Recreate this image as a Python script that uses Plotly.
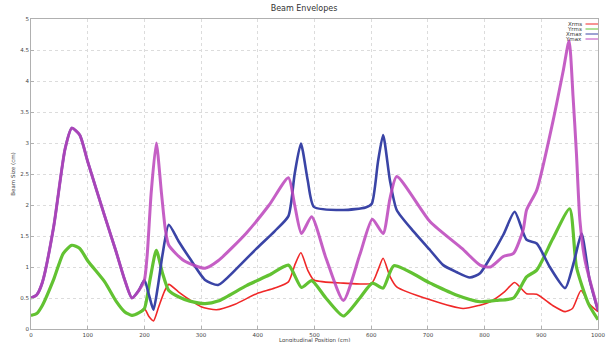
import plotly.graph_objects as go

# shared 0-200 segment values
x_max_a = [0, 10, 20, 40, 60, 72, 86, 100, 130, 150, 165, 178, 190, 200]
y_max_a = [0.5, 0.55, 0.75, 1.65, 2.9, 3.24, 3.13, 2.7, 1.82, 1.25, 0.8, 0.5, 0.62, 0.79]
x_rms_a = [0, 10, 20, 40, 57, 72, 86, 100, 130, 150, 165, 178, 190, 200]
y_rms_a = [0.22, 0.25, 0.38, 0.8, 1.22, 1.35, 1.3, 1.1, 0.76, 0.45, 0.28, 0.22, 0.26, 0.33]

xmax_x = [208, 216, 224, 232, 243, 260, 280, 307, 330, 360, 398, 430, 454, 465, 476, 488, 499,
          551, 590, 601, 612, 621, 633, 645, 675, 704, 727, 750, 774, 792, 810, 833, 853, 874,
          892, 915, 942, 958, 971, 985, 1000]
xmax_y = [0.55, 0.31, 0.7, 1.2, 1.68, 1.42, 1.14, 0.79, 0.71, 0.95, 1.3, 1.58, 1.82, 2.5, 2.99, 2.4, 1.97,
          1.92, 1.96, 2.02, 2.7, 3.13, 2.4, 1.92, 1.57, 1.27, 1.03, 0.92, 0.83, 0.9, 1.15, 1.52, 1.89, 1.44,
          1.38, 1.0, 0.66, 1.1, 1.54, 0.8, 0.3]

ymax_x = [205, 212, 221, 230, 237, 243, 270, 307, 330, 380, 420, 454, 465, 477, 495, 520, 551, 580,
          602, 621, 633, 645, 704, 760, 792, 810, 833, 851, 868, 874, 892, 921, 939, 949, 956, 962,
          968, 977, 1000]
ymax_y = [1.2, 2.2, 3.0, 2.2, 1.6, 1.35, 1.1, 0.98, 1.1, 1.55, 2.0, 2.44, 2.0, 1.54, 1.81, 1.15, 0.46, 1.2,
          1.77, 1.54, 2.1, 2.46, 1.73, 1.3, 1.03, 1.0, 1.17, 1.22, 1.6, 1.92, 2.24, 3.37, 4.18, 4.65, 3.75, 2.83,
          1.76, 1.11, 0.31]

yrms_x = [210, 221, 232, 243, 260, 280, 307, 330, 380, 420, 454, 477, 495, 520, 551, 580, 602, 621,
          640, 704, 750, 792, 820, 851, 874, 892, 920, 950, 962, 983, 1000]
yrms_y = [0.8, 1.27, 0.9, 0.62, 0.52, 0.45, 0.41, 0.45, 0.7, 0.87, 1.03, 0.67, 0.78, 0.5, 0.21, 0.5, 0.74, 0.66,
          1.02, 0.74, 0.55, 0.44, 0.46, 0.5, 0.84, 0.95, 1.45, 1.94, 1.0, 0.41, 0.15]

xrms_x = [208, 216, 225, 235, 243, 260, 280, 300, 327, 360, 398, 430, 454, 466, 476, 488, 499, 551,
          601, 612, 621, 633, 645, 704, 762, 790, 810, 835, 853, 874, 892, 920, 942, 955, 970, 985, 1000]
xrms_y = [0.2, 0.13, 0.35, 0.6, 0.72, 0.6, 0.47, 0.36, 0.31, 0.4, 0.57, 0.66, 0.76, 1.05, 1.23, 0.95, 0.79, 0.74,
          0.74, 0.95, 1.14, 0.85, 0.68, 0.47, 0.33, 0.38, 0.44, 0.6, 0.75, 0.57, 0.56, 0.38, 0.28, 0.33, 0.62, 0.4, 0.28]

names = ["Xrms", "Yrms", "Xmax", "Ymax"]
colors = ["#f02828", "#62c232", "#3a44a6", "#bc44bc"]
widths = [1.6, 3.2, 2.6, 3.0]

series = [
    (x_rms_a + xrms_x, y_rms_a + xrms_y),
    (x_rms_a + yrms_x, y_rms_a + yrms_y),
    (x_max_a + xmax_x, y_max_a + xmax_y),
    (x_max_a + ymax_x, y_max_a + ymax_y),
]

fig = go.Figure()
for (xs, ys), n, c, w in zip(series, names, colors, widths):
    fig.add_trace(go.Scatter(
        x=xs, y=ys, name=n, mode="lines",
        line=dict(color=c, width=w, shape="spline", smoothing=0.6),
        opacity=0.85 if n == "Ymax" else 1.0,
        showlegend=False,
    ))

# compact legend drawn in the top-right corner (text right-aligned, line sample to its right)
leg_font = dict(size=5.5, color="#333333", family="DejaVu Sans")
for i, (n, c) in enumerate(zip(names, colors)):
    yp = 1 - (5 + 5 * i) / 310.0
    fig.add_annotation(xref="paper", yref="paper", x=0.975, y=yp, text=n, showarrow=False,
                       xanchor="right", yanchor="middle", font=leg_font)
    fig.add_shape(type="line", xref="paper", yref="paper", x0=0.978, x1=1.0, y0=yp, y1=yp,
                  line=dict(color=c, width=1))

# x-axis title placed below the tick labels (partly clipped at the bottom edge, as in the source)
fig.add_annotation(xref="paper", yref="paper", x=0.5, y=-11.5 / 310.0, text="Longitudinal Position (cm)",
                   showarrow=False, xanchor="center", yanchor="middle",
                   font=dict(size=5.5, color="#444444", family="DejaVu Sans"))

axis_common = dict(
    showline=True, linecolor="#b0b0b0", linewidth=1, mirror=True,
    showgrid=True, gridcolor="#dcdcdc", griddash="dot", gridwidth=1,
    zeroline=False, ticks="inside", ticklen=3, tickcolor="#b0b0b0", automargin=False,
    tickfont=dict(size=5.5, color="#444444", family="DejaVu Sans"),
)

fig.update_layout(
    width=608, height=342,
    margin=dict(l=31, r=10, t=19, b=13),
    paper_bgcolor="white", plot_bgcolor="white",
    title=dict(text="Beam Envelopes", x=0.5, xanchor="center", y=0.985, yanchor="top",
               font=dict(size=8, color="#333333", family="DejaVu Sans")),
    xaxis=dict(range=[0, 1000], dtick=100, tick0=0, **axis_common),
    yaxis=dict(range=[0, 5], dtick=0.5, tick0=0,
               title=dict(text="Beam Size (cm)", standoff=4,
                          font=dict(size=5.5, color="#444444", family="DejaVu Sans")),
               **axis_common),
    showlegend=False,
)

fig.write_html("out.html")
